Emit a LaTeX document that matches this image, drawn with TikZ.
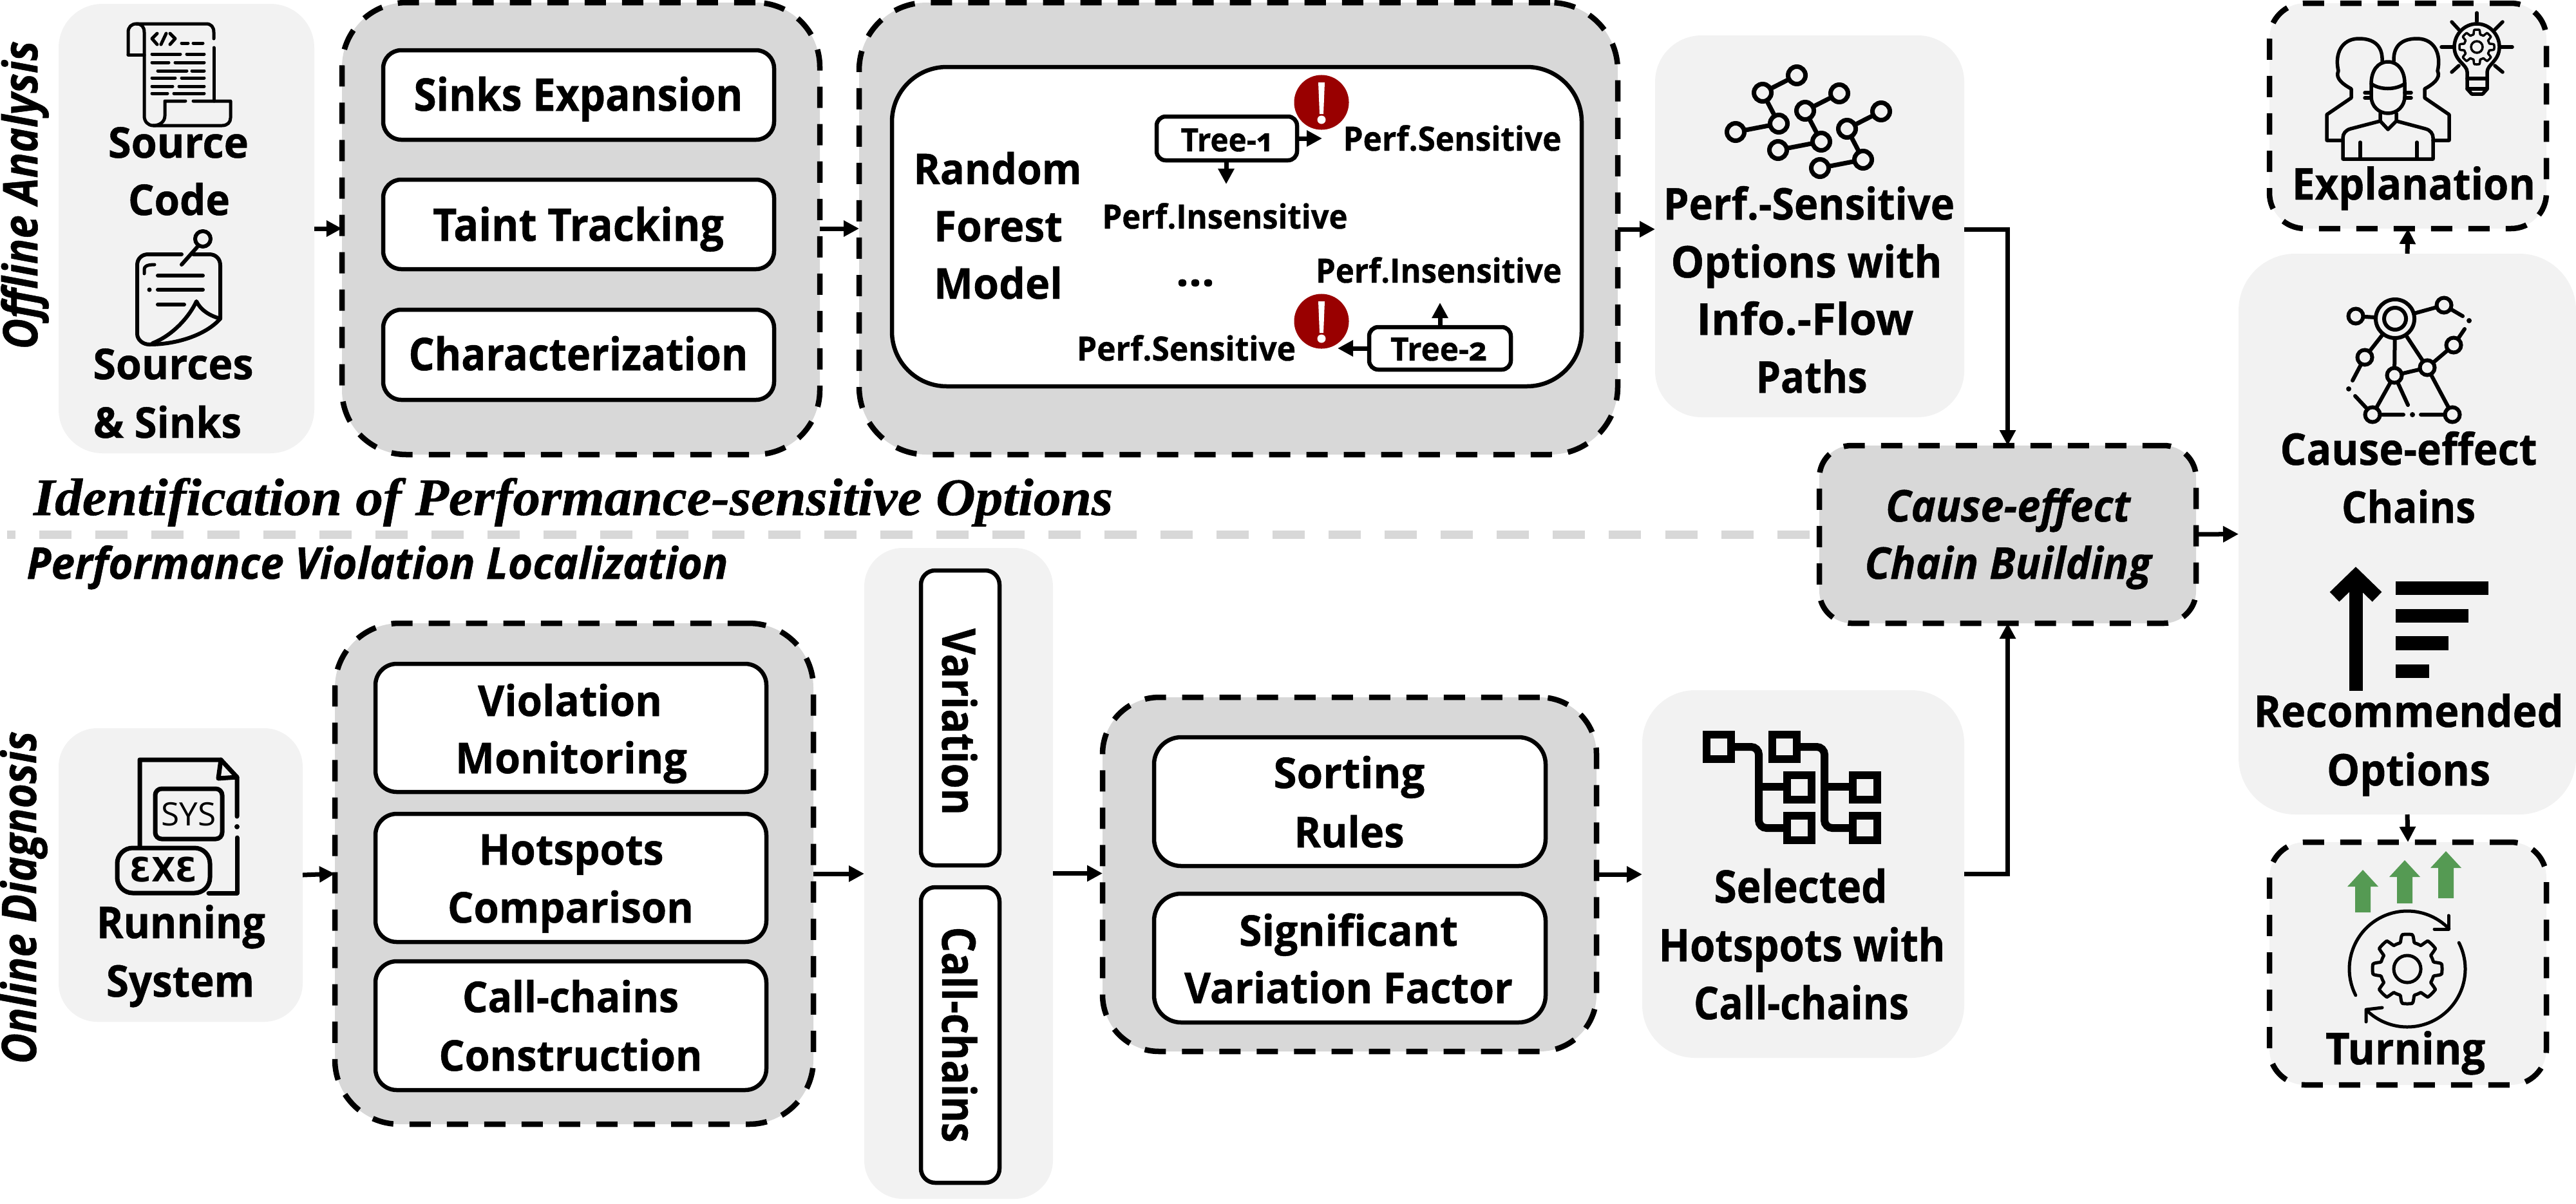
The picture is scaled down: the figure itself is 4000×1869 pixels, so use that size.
\documentclass[tikz,border=0pt]{standalone}
\usepackage{fontspec}
\usepackage{graphicx}
\usetikzlibrary{arrows.meta}
\setmainfont{Open Sans}[BoldFeatures={FakeBold=0.7},BoldItalicFeatures={FakeBold=0.7}]
\newfontfamily\serifbi{Liberation Serif}[BoldItalicFeatures={FakeBold=0.7}]
\newfontfamily\exefont{DejaVu Sans}
\newlength\pxu \setlength\pxu{0.01cm}
\definecolor{softgray}{HTML}{F2F2F2}
\definecolor{midgray}{HTML}{D8D8D8}
\definecolor{alertred}{HTML}{990000}
\definecolor{upgreen}{HTML}{559A53}
\tikzset{
  x=0.01cm,y=-0.01cm,
  softbox/.style={fill=softgray,draw=none,inner sep=0pt,outer sep=0pt,rounded corners=#1},
  dashsoft/.style={fill=softgray,draw=black,line width=.085cm,dash pattern=on .33cm off .25cm,inner sep=0pt,outer sep=0pt,rounded corners=#1},
  dashgroup/.style={fill=midgray,draw=black,line width=.085cm,dash pattern=on .33cm off .25cm,inner sep=0pt,outer sep=0pt,rounded corners=#1},
  whitebox/.style={fill=white,draw=black,line width=.065cm,inner sep=0pt,outer sep=0pt,rounded corners=#1},
  lbl/.style={inner sep=0pt,outer sep=0pt,anchor=base,font=\bfseries},
  arr/.style={line width=.07cm,-{Triangle[length=.24cm,width=.24cm]}},
  ic/.style={line width=.05cm,line cap=round,line join=round},
  icn/.style={line width=.06cm,line cap=round,line join=round},
  alert/.style={circle,fill=alertred,draw=none,minimum size=.85cm,inner sep=0pt},
  sep/.style={line width=.13cm,midgray,dash pattern=on .5cm off .37cm,dash phase=.37cm},
}
% \bx{style}{name}{x1}{y1}{x2}{y2}
\newcommand{\bx}[6]{%
  \pgfmathsetmacro\bxw{#5-#3}\pgfmathsetmacro\bxh{#6-#4}%
  \pgfmathsetmacro\bxx{(#3+#5)/2}\pgfmathsetmacro\bxy{(#4+#6)/2}%
  \node[#1,minimum width=\bxw*\pxu,minimum height=\bxh*\pxu] (#2) at (\bxx,\bxy) {};}
% \tx[opts]{name}{cx}{baseline}{width}{size}{text}
\newcommand{\tx}[7][]{%
  \node[lbl,#1] (#2) at (#3,#4) {\fontsize{\the\dimexpr#6\pxu\relax}{\the\dimexpr#6\pxu\relax}\selectfont\resizebox{#5\pxu}{\height}{#7}};}
\newcommand{\gearicon}[5]{% cx cy router rinner lw
  \draw[line width=#5,line join=round] plot[domain=0:360,samples=181]
   ({#1+(#4+(#3-#4)*min(1,max(0,(abs(mod(\x,45)-22.5)/22.5-0.35)*4)))*cos(\x)},
    {#2+(#4+(#3-#4)*min(1,max(0,(abs(mod(\x,45)-22.5)/22.5-0.35)*4)))*sin(\x)}) -- cycle;}
\newcommand{\uparrowgreen}[3]{% cx top bottom
  \pgfmathsetmacro\hb{#2+26}%
  \fill[upgreen] (#1,#2) -- (#1+24,\hb) -- (#1+12,\hb) -- (#1+12,#3) -- (#1-12,#3) -- (#1-12,\hb) -- (#1-24,\hb) -- cycle;}
\begin{document}
\begin{tikzpicture}
\useasboundingbox (0,0) rectangle (4000,1869);

% separator
\coordinate (sepa) at (11,830);
\coordinate (sepb) at (2824,830);
\draw[sep] (sepa) -- (sepb);

% boxes
\bx{softbox=.68cm}{src}{91}{6}{488}{704}
\bx{dashgroup=1cm}{gone}{531}{4}{1273}{706}
\bx{whitebox=.28cm}{sinksb}{595}{78}{1202}{217}
\bx{whitebox=.28cm}{taintb}{595}{279}{1202}{418}
\bx{whitebox=.28cm}{charb}{595}{481}{1202}{621}
\bx{dashgroup=1.05cm}{gtwo}{1334}{4}{2512}{706}
\bx{whitebox=.85cm}{rf}{1385}{104}{2456}{600}
\bx{whitebox=.14cm}{treeone}{1796}{181}{2014}{249}
\bx{whitebox=.14cm}{treetwo}{2126}{508}{2346}{574}
\bx{softbox=.72cm}{perf}{2570}{55}{3050}{648}
\bx{dashgroup=.5cm}{cause}{2825}{692}{3410}{968}
\bx{softbox=.88cm}{mainb}{3476}{394}{4000}{1265}
\bx{dashsoft=.55cm}{expl}{3524}{5}{3954}{355}
\bx{dashsoft=.55cm}{turn}{3524}{1308}{3954}{1685}
\bx{softbox=.6cm}{runb}{91}{1131}{470}{1587}
\bx{dashgroup=1cm}{gthree}{520}{968}{1263}{1746}
\bx{whitebox=.33cm}{violb}{583}{1031}{1190}{1230}
\bx{whitebox=.33cm}{hotb}{583}{1264}{1190}{1463}
\bx{whitebox=.33cm}{callb}{583}{1493}{1190}{1693}
\bx{softbox=.6cm}{panel}{1342}{851}{1635}{1862}
\bx{whitebox=.22cm}{varb}{1430}{886}{1552}{1344}
\bx{whitebox=.22cm}{chainb}{1430}{1378}{1552}{1837}
\bx{dashgroup=.88cm}{gfour}{1712}{1083}{2479}{1633}
\bx{whitebox=.42cm}{sortb}{1792}{1145}{2400}{1345}
\bx{whitebox=.42cm}{sigb}{1792}{1388}{2400}{1588}
\bx{softbox=.82cm}{sel}{2550}{1072}{3050}{1643}

% connectors
\draw[arr] (src.east) -- (gone.west);
\draw[arr] (gone.east) -- (gtwo.west);
\draw[arr] ([yshift=-.01cm]gtwo.east) -- ([yshift=-.01cm]gtwo.east -| perf.west);
\draw[arr] ([yshift=-.045cm]perf.east) -| (cause.north);
\draw[arr] (sel.east) -| (cause.south);
\draw[arr] (cause.east) -- (mainb.west);
\draw[arr] (mainb.north) -- (expl.south);
\draw[arr] (mainb.south) -- (turn.north);
\draw[arr] (runb.east) -- (gthree.west);
\draw[arr] (gthree.east) -- (gthree.east -| panel.west);
\draw[arr] (panel.east) -- (panel.east -| gfour.west);
\draw[arr] (gfour.east) -- (gfour.east -| sel.west);

% tree arrows
\coordinate (toner) at (2053,215);
\coordinate (toned) at (1904,286);
\coordinate (ttwol) at (2077,541);
\coordinate (ttwou) at (2236,470);
\draw[arr] (treeone.east) -- (toner);
\draw[arr] (toned |- treeone.south) -- (toned);
\draw[arr] (treetwo.west) -- (ttwol);
\draw[arr] (ttwou |- treetwo.north) -- (ttwou);

% alert marks
\node[alert] (alertone) at (2052,159) {};
\node[alert] (alerttwo) at (2052,499) {};
\foreach \ay in {159,499}{
  \fill[white] (2047,\ay-31) -- (2057,\ay-31) -- (2055,\ay+18) -- (2049,\ay+18) -- cycle;
  \fill[white] (2052,\ay+27) circle (.065cm);
}

% side labels
\tx[rotate=90]{offl}{58}{303}{479}{74}{\itshape Offline Analysis}
\tx[rotate=90]{onl}{56}{1394}{517}{74}{\itshape Online Diagnosis}
\node[lbl] (ident) at (890,800) {\fontsize{\the\dimexpr82\pxu\relax}{\the\dimexpr82\pxu\relax}\serifbi\bfseries\itshape\resizebox{1676\pxu}{\height}{Identification of Performance-sensitive Options}};
\tx{pvl}{586}{899}{1089}{68}{\itshape Performance Violation Localization}

% texts
\tx{t1}{277}{245}{218}{66}{Source}
\tx{t2}{278}{334}{158}{66}{Code}
\tx{t3}{269}{589}{249}{66}{Sources}
\tx{t4}{260}{680}{230}{66}{\& Sinks}
\tx{t5}{898}{172}{511}{70}{Sinks Expansion}
\tx{t6}{898}{374}{452}{70}{Taint Tracking}
\tx{t7}{898}{575}{527}{70}{Characterization}
\tx{t8}{1549}{286}{261}{66}{Random}
\tx{t9}{1550}{375}{200}{66}{Forest}
\tx{t10}{1550}{464}{200}{66}{Model}
\tx{t11}{1904}{235}{141}{50}{\addfontfeatures{Numbers=OldStyle}Tree-1}
\tx{t12}{2234}{560}{150}{50}{\addfontfeatures{Numbers=OldStyle}Tree-2}
\tx{t13}{2255}{234}{339}{52}{Perf.Sensitive}
\tx{t14}{1902}{355}{381}{52}{Perf.Insensitive}
\tx{t15}{1856}{444}{60}{66}{...}
\tx{t16}{2234}{439}{382}{52}{Perf.Insensitive}
\tx{t17}{1842}{560}{340}{52}{Perf.Sensitive}
\tx{t18}{2809}{341}{452}{68}{Perf.-Sensitive}
\tx{t19}{2805}{431}{421}{68}{Options with}
\tx{t20}{2803}{520}{337}{68}{Info.-Flow}
\tx{t21}{2813}{610}{173}{68}{Paths}
\tx{t22}{3118}{810}{380}{68}{\itshape Cause-effect}
\tx{t23}{3118}{899}{445}{68}{\itshape Chain Building}
\tx{t24}{3748}{310}{378}{68}{Explanation}
\tx{t25}{3740}{722}{399}{68}{Cause-effect}
\tx{t26}{3740}{812}{208}{68}{Chains}
\tx{t27}{3740}{1129}{481}{68}{Recommended}
\tx{t28}{3740}{1220}{254}{68}{Options}
\tx{t29}{3735}{1653}{248}{68}{Turning}
\tx{t30}{281}{1457}{262}{68}{Running}
\tx{t31}{280}{1548}{230}{68}{System}
\tx{t32}{885}{1112}{286}{66}{Violation}
\tx{t33}{887}{1201}{360}{66}{Monitoring}
\tx{t34}{887}{1343}{287}{66}{Hotspots}
\tx{t35}{886}{1433}{382}{66}{Comparison}
\tx{t36}{886}{1572}{336}{66}{Call-chains}
\tx{t37}{886}{1663}{409}{66}{Construction}
\tx[rotate=-90]{t38}{1463}{1121}{290}{72}{Variation}
\tx[rotate=-90]{t39}{1463}{1607}{335}{72}{Call-chains}
\tx{t40}{2095}{1224}{235}{66}{Sorting}
\tx{t41}{2095}{1316}{171}{66}{Rules}
\tx{t42}{2094}{1469}{340}{66}{Significant}
\tx{t43}{2094}{1558}{510}{66}{Variation Factor}
\tx{t44}{2796}{1402}{269}{70}{Selected}
\tx{t45}{2798}{1493}{445}{70}{Hotspots with}
\tx{t46}{2797}{1583}{334}{70}{Call-chains}

% icon: source code scroll
\draw[ic] (199,85) -- (199,50) .. controls (199,42) and (204,37) .. (212,37) -- (320,37) .. controls (328,37) and (332,42) .. (332,50) -- (332,60);
\draw[ic] (332,74) -- (332,157);
\draw[ic] (199,85) -- (224,85);
\draw[ic] (212,37) .. controls (220,37) and (224,42) .. (224,50) -- (224,180) .. controls (224,189) and (230,195) .. (238,195) -- (345,195) .. controls (353,195) and (358,190) .. (358,183) -- (358,157) -- (300,157);
\draw[ic] (288,157) -- (256,157) -- (256,180) .. controls (256,189) and (248,195) .. (238,195);
\draw[ic] (244,52) -- (236,60) -- (244,69);
\draw[ic] (250,69) -- (258,52);
\draw[ic] (264,52) -- (272,60) -- (264,69);
\draw[ic] (282,67) -- (292,67) (300,67) -- (315,67);
\foreach \ly/\la/\lb/\lc/\ld in {84/236/280/290/317,97/236/262/272/317,110/245/290/298/317,121/236/272/282/317,134/236/268/278/317,145/236/260/270/317}{
  \draw[ic] (\la,\ly) -- (\lb,\ly) (\lc,\ly) -- (\ld,\ly);
}
% icon: sources & sinks note
\draw[icn] (315,371) circle (.12cm);
\draw[icn] (306,384) -- (282,411);
\draw[icn] (282,395) -- (230,395) .. controls (220,395) and (213,402) .. (213,412) -- (213,518) .. controls (213,528) and (222,535) .. (232,535) .. controls (275,535) and (320,520) .. (342,495) -- (342,412) .. controls (342,402) and (335,395) .. (325,395) -- (300,395);
\draw[icn] (342,495) .. controls (325,490) and (312,482) .. (305,468) .. controls (295,490) and (270,520) .. (237,533);
\draw[ic] (224,425) -- (224,418) .. controls (224,414) and (228,411) .. (240,411);
\draw[icn] (245,428) -- (315,428);
\draw[icn] (245,450) -- (315,450);
\fill (232,450) circle (.035cm);
\draw[icn] (245,473) -- (286,473);

% icon: network (perf box)
\foreach \dx/\dy in {0/0,66/28,131/56}{
 \begin{scope}[shift={(\dx,\dy)}]
  \draw[line width=.07cm] (2790,117) -- (2737,144) -- (2762,192) -- (2695,205);
  \foreach \nx/\ny in {2790/117,2737/144,2762/192,2695/205}{
    \draw[line width=.07cm,fill=softgray] (\nx,\ny) circle (.135cm);
  }
 \end{scope}
}

% icon: cause-effect chain
\begin{scope}[line width=.06cm,line cap=round]
 \draw (3658,491) -- (3719,495);
 \draw (3719,495) -- (3795,474) -- (3824,491);
 \draw (3827,511) -- (3810,536) -- (3769,571);
 \draw (3719,495) -- (3672,555) -- (3653,591);
 \draw (3719,495) -- (3718,583) -- (3769,571) -- (3719,495);
 \draw (3718,583) -- (3684,644) -- (3732,644);
 \draw (3718,583) -- (3739,629);
 \draw (3769,571) -- (3808,644) -- (3759,644);
 \draw (3657,615) -- (3684,644);
 \fill (3834,498) circle (.04cm) (3746,644) circle (.04cm) (3647,604) circle (.04cm);
 \draw[fill=softgray] (3719,495) circle (.30cm);
 \draw[fill=softgray] (3719,495) circle (.17cm);
 \foreach \nx/\ny in {3658/491,3795/474,3810/536,3672/555,3718/583,3769/571,3684/644,3808/644}{
   \draw[fill=softgray] (\nx,\ny) circle (.115cm);
 }
\end{scope}

% icon: people and bulb
\begin{scope}[line width=.055cm,line join=round,line cap=round]
 \draw (3638,218) -- (3613,218) -- (3613,178) -- (3651,152) -- (3651,138) .. controls (3640,132) and (3625,122) .. (3631,110) .. controls (3625,85) and (3635,60) .. (3663,60) .. controls (3685,60) and (3700,70) .. (3699,95);
 \draw (3778,218) -- (3803,218) -- (3803,178) -- (3765,152) -- (3765,138) .. controls (3776,132) and (3791,122) .. (3785,110) .. controls (3791,85) and (3781,60) .. (3753,60) .. controls (3731,60) and (3716,70) .. (3717,95);
 \draw[fill=softgray] (3682,130) .. controls (3682,110) and (3692,96) .. (3708,96) .. controls (3724,96) and (3734,110) .. (3734,130) -- (3734,150) .. controls (3734,165) and (3722,176) .. (3708,176) .. controls (3694,176) and (3682,165) .. (3682,150) -- cycle;
 \draw (3682,130) .. controls (3695,140) and (3720,140) .. (3734,130);
 \draw (3682,144) -- (3672,144) (3672,152) -- (3682,152) (3734,144) -- (3744,144) (3744,152) -- (3734,152);
 \draw (3696,176) -- (3696,188) -- (3708,201) -- (3721,188) -- (3721,176);
 \draw (3696,188) -- (3650,200) .. controls (3642,202) and (3638,208) .. (3638,214) -- (3638,247) -- (3778,247) -- (3778,214) .. controls (3778,208) and (3774,202) .. (3766,200) -- (3721,188);
 \draw (3665,221) -- (3665,247) (3753,221) -- (3753,247);
 % bulb
 \draw (3831,112) .. controls (3831,100) and (3811,95) .. (3811,73) .. controls (3811,53) and (3827,37) .. (3846,37) .. controls (3865,37) and (3881,53) .. (3881,73) .. controls (3881,95) and (3862,100) .. (3862,112) -- (3862,138) -- (3855,146) -- (3838,146) -- (3831,138) -- cycle;
 \draw (3831,122) -- (3862,122) (3831,138) -- (3862,138);
 \draw (3846,20) -- (3846,33) (3791,73) -- (3809,73) (3883,73) -- (3901,73);
 \draw (3807,34) -- (3818,46) (3886,34) -- (3874,46) (3807,112) -- (3818,102) (3886,112) -- (3874,102);
\end{scope}
\gearicon{3846}{73}{27}{20}{.035cm}
\draw[line width=.035cm] (3846,73) circle (.09cm);

% icon: recommended options
\draw[line width=.21cm] (3658,1073) -- (3658,895);
\draw[line width=.21cm,line join=miter] (3625,927) -- (3658,895) -- (3691,927);
\fill (3720,903) rectangle (3864,924);
\fill (3720,946) rectangle (3833,967);
\fill (3720,988) rectangle (3802,1010);
\fill (3720,1032) rectangle (3772,1053);

% icon: turning
\uparrowgreen{3669}{1351}{1417}
\uparrowgreen{3734}{1336}{1403}
\uparrowgreen{3798}{1322}{1395}
\draw[ic] plot[domain=207:44,samples=60] ({3738+90*cos(\x)},{1505-90*sin(\x)});
\draw[ic] (3802,1422) -- (3802,1443) -- (3780,1443);
\draw[ic] plot[domain=27:-134,samples=60] ({3738+90*cos(\x)},{1505-90*sin(\x)});
\draw[ic] (3674,1587) -- (3674,1568) -- (3699,1565);
\gearicon{3738}{1505}{54}{42}{.05cm}
\draw[line width=.05cm] (3738,1505) circle (.21cm);

% icon: running system file
\begin{scope}[line width=.07cm,line join=round,line cap=round]
 \draw (217,1315) -- (217,1180) -- (343,1180) -- (368,1207) -- (368,1268);
 \draw (343,1180) -- (339,1209) -- (368,1207);
 \fill (368,1284) circle (.04cm);
 \draw (368,1301) -- (368,1387) -- (324,1387);
 \draw[rounded corners=.1cm] (241,1225) rectangle (345,1303);
 \draw[rounded corners=.24cm] (182,1317) rectangle (326,1387);
\end{scope}
\node[inner sep=0pt,font=\fontsize{\the\dimexpr50\pxu\relax}{\the\dimexpr50\pxu\relax}\selectfont] (sys) at (293,1265) {\resizebox{85\pxu}{\height}{SYS}};
\node[inner sep=0pt,font=\fontsize{\the\dimexpr52\pxu\relax}{\the\dimexpr52\pxu\relax}\exefont\bfseries] (exe) at (254,1351) {\resizebox{105\pxu}{\height}{ƐXƐ}};

% icon: hotspots
\foreach \bxa/\bya in {2650/1141,2752/1141,2775/1204,2877/1204,2775/1267,2877/1267}{
  \draw[line width=.12cm] (\bxa,\bya) rectangle ++(38,38);
}
\draw[line width=.12cm,rounded corners=.12cm] (2694,1160) -- (2731,1160) -- (2731,1286) -- (2769,1286);
\draw[line width=.12cm] (2731,1222) -- (2769,1222);
\draw[line width=.12cm,rounded corners=.12cm] (2796,1160) -- (2833,1160) -- (2833,1286) -- (2871,1286);
\draw[line width=.12cm] (2833,1222) -- (2871,1222);
\end{tikzpicture}
\end{document}
